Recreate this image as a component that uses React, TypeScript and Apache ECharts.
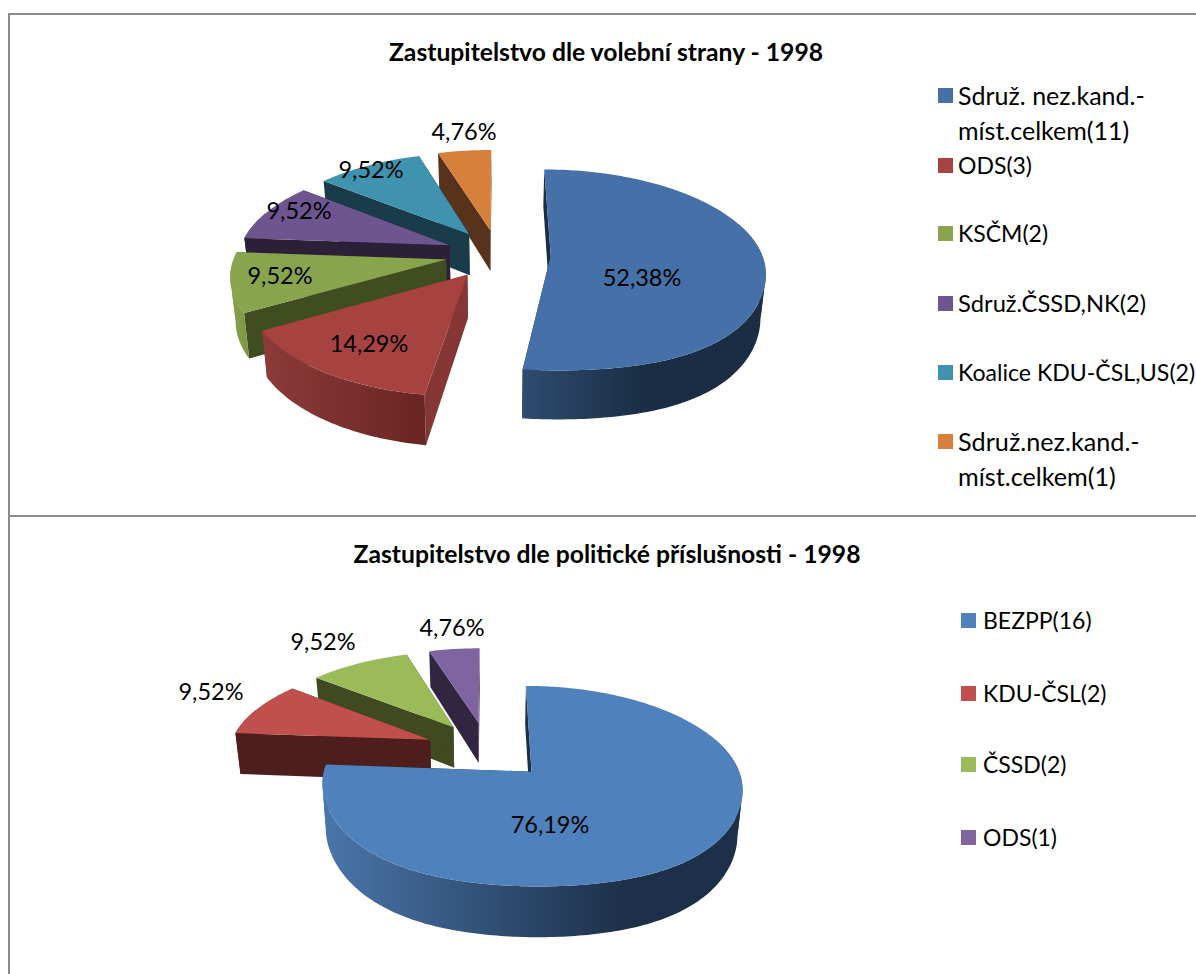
import React, { useEffect, useRef } from "react";
import * as echarts from "echarts";

const FONT = "Lato";
const LABEL_SIZE = 23.5;
const TITLE_SIZE = 24.7;

const partyNamesA = ["Sdruž. nez.kand.-\nmíst.celkem(11)", "ODS(3)", "KSČM(2)", "Sdruž.ČSSD,NK(2)", "Koalice KDU-ČSL,US(2)", "Sdruž.nez.kand.-\nmíst.celkem(1)"];
const seatsA = [11, 3, 2, 2, 2, 1];
const partyNamesB = ["BEZPP(16)", "KDU-ČSL(2)", "ČSSD(2)", "ODS(1)"];
const seatsB = [16, 2, 2, 1];

const topColorsA = ["#4671a8", "#a64341", "#88a44c", "#6f5590", "#3f93ae", "#d6803b"];
const cutColorsA = ["#1a2d45", "#853635", "#404d20", "#2b2038", "#1a3b4a", "#56331a"];
const wallStopsA = [
  ["#2f4d70", "#1a2d45"],
  ["#8c3b39", "#6a2624"],
  ["#88a44c", "#7c9745"],
  ["#2b2038", "#2b2038"],
  ["#1a3b4a", "#1a3b4a"],
  ["#56331a", "#56331a"],
];
const wallFadeA = [0.5, 0.95, 0.9, 1, 1, 1];
const bulgeA = [0.04, 0, 0, 0, 0, 0];
const topColorsB = ["#4f81bd", "#c0504d", "#9bbb59", "#8064a2"];
const cutColorsB = ["#1c3049", "#4e1e1c", "#3f4a20", "#312542"];
const wallStopsB = [
  ["#4a76aa", "#1d3049"],
  ["#4e1e1c", "#4e1e1c"],
  ["#3f4a20", "#3f4a20"],
  ["#312542", "#312542"],
];
const wallFadeB = [0.72, 1, 1, 1];
const bulgeB = [0.035, 0, 0, 0];

const labelCentersA = [[642, 277], [369, 343], [280, 275], [299, 210], [371, 169], [464, 131]];
const labelCentersB = [[550, 824], [211, 691], [323, 641], [452, 627]];

const legendRowsA = [95, 165, 233, 303, 372, 441];
const legendRowsB = [620, 693, 764, 837];
const legendSizesA = [25, 23, 23, 23.7, 23.1, 25.2];
const legendSizesB = [23, 23, 23, 23];

const geometryA = { cx: 498, cy: 254, rx: 211, ry: 98, h: 42, d: 0.25, k: 0.14 };
const geometryB = { cx: 487.5, cy: 750, rx: 201, ry: 92, h: 42, d: 0.3115, k: 0.14 };

const LEGEND_LINE = 34.5;

function percentLabel(v: number, total: number) {
  return ((v / total) * 100).toFixed(2).replace(".", ",") + "%";
}

function pieSeries(name: string, values: number[], geo: any, tops: string[], cuts: string[], walls: string[][], fades: number[], bulges: number[], labels: number[][]) {
  const total = values.reduce((a, b) => a + b, 0);
  const slices: any[] = [];
  let acc = 0;
  values.forEach((v, i) => {
    const t0 = (acc / total) * Math.PI * 2;
    acc += v;
    const t1 = (acc / total) * Math.PI * 2;
    const mid = (t0 + t1) / 2;
    slices.push({ i, t0, t1, ax: geo.d * Math.sin(mid), av: -geo.d * Math.cos(mid) });
  });
  const order = slices.slice().sort((a, b) => a.av - b.av);

  const project = (u: number, v: number, bottom: boolean) => {
    const s = 1 / (1 - geo.k * v);
    let x = geo.cx + geo.rx * u * s;
    let y = geo.cy + geo.ry * v * s;
    if (bottom) {
      x = geo.cx + (x - geo.cx) * 0.98;
      y += geo.h * s;
    }
    return [x, y];
  };

  return {
    type: "custom",
    name,
    coordinateSystem: "none",
    silent: true,
    clip: false,
    data: order.map((sl) => ({ name: String(sl.i), value: [sl.i, values[sl.i]] })),
    renderItem: (_p: any, api: any) => {
      const sl = slices[api.value(0)];
      const i = sl.i;
      const pt = (t: number, r: number, bottom: boolean) => {
        const c = Math.cos(t);
        const s2 = Math.sin(2 * t);
        const extra = r === 1 && c < 0 ? bulges[i] * s2 * s2 : 0;
        return project(sl.ax + r * Math.sin(t), sl.av - r * c + extra, bottom);
      };
      const face = (points: number[][], fill: any) => ({ type: "polygon", shape: { points }, style: { fill, stroke: null } });
      const quad = (t: number) => face([pt(t, 0, false), pt(t, 1, false), pt(t, 1, true), pt(t, 0, true)], cuts[i]);

      const arc: number[] = [];
      const step = Math.PI / 180;
      for (let t = sl.t0; t < sl.t1; t += step) arc.push(t);
      arc.push(sl.t1);

      const children: any[] = [quad(sl.t0), quad(sl.t1)];
      const front = arc.filter((t) => -Math.cos(t) > -0.35);
      if (front.length > 1) {
        const allX = front.flatMap((t) => [pt(t, 1, false)[0], pt(t, 1, true)[0]]);
        const fill = new echarts.graphic.LinearGradient(
          Math.min(...allX), 0, Math.max(...allX), 0,
          [
            { offset: 0, color: walls[i][0] },
            { offset: fades[i], color: walls[i][1] },
            { offset: 1, color: walls[i][1] },
          ],
          true
        );
        // Split the wall where the arc turns back in x, so the strip never folds over itself.
        let run: number[] = [front[0]];
        let dir = 0;
        const flush = () => {
          if (run.length > 1) {
            const pts = run.map((t) => pt(t, 1, false)).concat(run.slice().reverse().map((t) => pt(t, 1, true)));
            children.push(face(pts, fill));
          }
        };
        for (let n = 1; n < front.length; n++) {
          const dx = pt(front[n], 1, false)[0] - pt(front[n - 1], 1, false)[0];
          const nd = dx >= 0 ? 1 : -1;
          if (dir !== 0 && nd !== dir) {
            flush();
            run = [front[n - 1]];
          }
          dir = nd;
          run.push(front[n]);
        }
        flush();
      }
      children.push(face([pt(0, 0, false)].concat(arc.map((t) => pt(t, 1, false))), tops[i]));
      children.push({
        type: "text",
        z2: 10,
        style: {
          text: percentLabel(api.value(1), total),
          x: labels[i][0],
          y: labels[i][1],
          align: "center",
          verticalAlign: "middle",
          fill: "#000",
          font: `${LABEL_SIZE}px ${FONT}`,
        },
      });
      return { type: "group", children };
    },
  };
}

function legendGraphics(names: string[], colors: string[], rows: number[], sizes: number[], markerX: number, textX: number) {
  const out: any[] = [];
  names.forEach((n, i) => {
    out.push({ type: "rect", shape: { x: markerX, y: rows[i] - 7, width: 15, height: 15 }, style: { fill: colors[i] } });
    n.split("\n").forEach((line, j) => {
      out.push({
        type: "text",
        style: {
          text: line,
          x: textX,
          y: rows[i] + j * LEGEND_LINE,
          align: "left",
          verticalAlign: "middle",
          fill: "#000",
          font: `${sizes[i]}px ${FONT}`,
        },
      });
    });
  });
  return out;
}

function frameLine(x1: number, y1: number, x2: number, y2: number) {
  return { type: "line", shape: { x1, y1, x2, y2 }, style: { stroke: "#8c8c8c", lineWidth: 2 } };
}

export default function App() {
  const ref = useRef<HTMLDivElement>(null);
  useEffect(() => {
    document.body.style.margin = "0";
    document.body.style.overflow = "hidden";
    const chart = echarts.init(ref.current!, undefined, { renderer: "svg" });
    chart.setOption({
      animation: false,
      backgroundColor: "#fff",
      title: [
        { text: "Zastupitelstvo dle volební strany - 1998", left: 606, top: 39, textAlign: "center", padding: 0, textStyle: { fontFamily: FONT, fontSize: TITLE_SIZE, fontWeight: "bold", color: "#000" } },
        { text: "Zastupitelstvo dle politické příslušnosti - 1998", left: 607, top: 541, textAlign: "center", padding: 0, textStyle: { fontFamily: FONT, fontSize: TITLE_SIZE, fontWeight: "bold", color: "#000" } },
      ],
      series: [
        pieSeries("Zastupitelstvo dle volební strany - 1998", seatsA, geometryA, topColorsA, cutColorsA, wallStopsA, wallFadeA, bulgeA, labelCentersA),
        pieSeries("Zastupitelstvo dle politické příslušnosti - 1998", seatsB, geometryB, topColorsB, cutColorsB, wallStopsB, wallFadeB, bulgeB, labelCentersB),
      ],
      graphic: [
        frameLine(8, 14, 1196, 14),
        frameLine(9, 13, 9, 974),
        frameLine(8, 516, 1196, 516),
        ...legendGraphics(partyNamesA, topColorsA, legendRowsA, legendSizesA, 938, 958),
        ...legendGraphics(partyNamesB, topColorsB, legendRowsB, legendSizesB, 961, 983),
      ],
    });
    return () => chart.dispose();
  }, []);
  return <div ref={ref} style={{ position: "fixed", left: 0, top: 0, width: 1196, height: 974 }} />;
}
